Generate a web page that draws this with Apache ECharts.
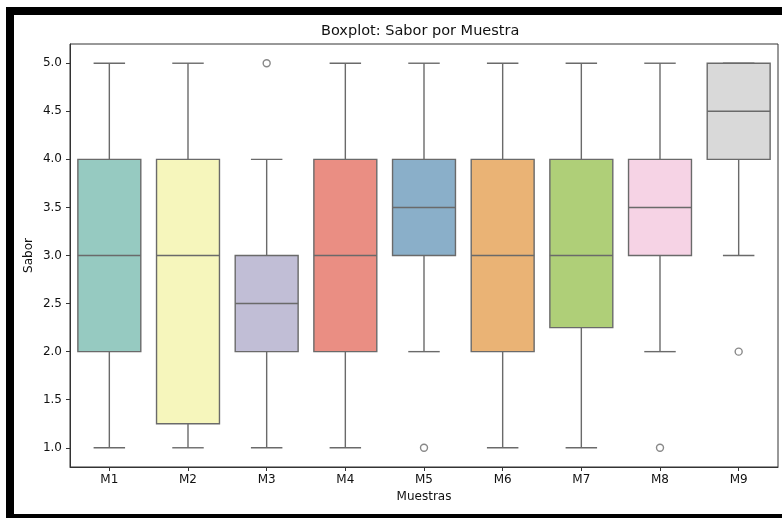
<!DOCTYPE html>
<html>
<head>
<meta charset="utf-8">
<script src="https://cdn.jsdelivr.net/npm/echarts@6/dist/echarts.min.js"></script>
<style>
html,body{margin:0;padding:0;background:#fff;}
#chart{width:782px;height:518px;}
</style>
</head>
<body>
<div id="chart"></div>
<script>
const categories = ['M1','M2','M3','M4','M5','M6','M7','M8','M9'];
const whiskerLow  = [1, 1,    1,   1, 2,   1, 1,    2,   3];
const q1          = [2, 1.25, 2,   2, 3,   2, 2.25, 3,   4];
const median      = [3, 3,    2.5, 3, 3.5, 3, 3,    3.5, 4.5];
const q3          = [4, 4,    3,   4, 4,   4, 4,    4,   5];
const whiskerHigh = [5, 5,    4,   5, 5,   5, 5,    5,   5];
const outliers    = [['M3', 5], ['M5', 1], ['M8', 1], ['M9', 2]];
const yTicks      = [1.0, 1.5, 2.0, 2.5, 3.0, 3.5, 4.0, 4.5, 5.0];
const palette = ['#96cac1','#f6f6bc','#c1bed6','#ea8e83','#8aafc9','#eab375','#afcf78','#f6d3e5','#d9d9d9'];

const lineColor = '#6a6a6a';
const lw = 1.4;
const FONT = 'DejaVu Sans';

const boxData = categories.map((c, i) => [i, whiskerLow[i], q1[i], median[i], q3[i], whiskerHigh[i]]);

const chart = echarts.init(document.getElementById('chart'), null, {renderer: 'canvas'});

chart.setOption({
  animation: false,
  backgroundColor: '#ffffff',
  title: {
    text: 'Boxplot: Sabor por Muestra',
    left: 321, top: 24, padding: 0,
    textStyle: {fontFamily: FONT, fontSize: 14.5, fontWeight: 'normal', color: '#111'}
  },
  grid: {
    left: 70, top: 44, right: 4, bottom: 51,
    show: true, borderColor: '#333', borderWidth: 1, backgroundColor: '#fff'
  },
  graphic: [
    {type: 'rect', shape: {x: 6, y: 7, width: 776, height: 8}, style: {fill: '#000'}, silent: true},
    {type: 'rect', shape: {x: 6, y: 7, width: 8, height: 511}, style: {fill: '#000'}, silent: true},
    {type: 'rect', shape: {x: 6, y: 514, width: 776, height: 4}, style: {fill: '#000'}, silent: true}
  ],
  xAxis: {
    type: 'category',
    data: categories,
    boundaryGap: true,
    name: 'Muestras',
    nameLocation: 'middle',
    nameGap: 24,
    nameTextStyle: {fontFamily: FONT, fontSize: 12, color: '#111'},
    axisLine: {show: true, lineStyle: {color: '#333', width: 1}},
    axisTick: {show: true, alignWithLabel: true, length: 4, lineStyle: {color: '#333'}},
    axisLabel: {fontFamily: FONT, fontSize: 12, color: '#111', margin: 7},
    splitLine: {show: false}
  },
  yAxis: {
    type: 'value',
    min: 0.8, max: 5.2,
    name: 'Sabor',
    nameLocation: 'middle',
    nameGap: 35,
    nameMoveOverlap: false,
    nameRotate: 90,
    nameTextStyle: {fontFamily: FONT, fontSize: 12, color: '#111'},
    axisLine: {show: true, lineStyle: {color: '#333', width: 1}},
    axisTick: {show: true, length: 4, customValues: yTicks, lineStyle: {color: '#333'}},
    axisLabel: {fontFamily: FONT, fontSize: 12, color: '#111', margin: 8, customValues: yTicks,
      formatter: v => Number(v).toFixed(1)},
    splitLine: {show: false}
  },
  series: [
    {
      type: 'custom',
      data: boxData,
      encode: {x: 0, y: [1, 2, 3, 4, 5]},
      renderItem: function (params, api) {
        const idx = api.value(0);
        const pLo = api.coord([idx, api.value(1)]);
        const pQ1 = api.coord([idx, api.value(2)]);
        const pMed = api.coord([idx, api.value(3)]);
        const pQ3 = api.coord([idx, api.value(4)]);
        const pHi = api.coord([idx, api.value(5)]);
        const band = api.size([1, 0])[0];
        const bw = band * 0.8;
        const cw = band * 0.4;
        const cx = pQ1[0];
        const ls = {stroke: lineColor, lineWidth: lw};
        return {
          type: 'group',
          children: [
            {type: 'line', shape: {x1: cx, y1: pLo[1], x2: cx, y2: pQ1[1]}, style: ls},
            {type: 'line', shape: {x1: cx, y1: pQ3[1], x2: cx, y2: pHi[1]}, style: ls},
            {type: 'rect', shape: {x: cx - bw / 2, y: pQ3[1], width: bw, height: pQ1[1] - pQ3[1]},
              style: {fill: palette[idx], stroke: lineColor, lineWidth: lw}},
            {type: 'line', shape: {x1: cx - bw / 2, y1: pMed[1], x2: cx + bw / 2, y2: pMed[1]}, style: ls},
            {type: 'line', shape: {x1: cx - cw / 2, y1: pLo[1], x2: cx + cw / 2, y2: pLo[1]}, style: ls},
            {type: 'line', shape: {x1: cx - cw / 2, y1: pHi[1], x2: cx + cw / 2, y2: pHi[1]}, style: ls}
          ]
        };
      }
    },
    {
      type: 'scatter',
      data: outliers,
      symbol: 'circle',
      symbolSize: 7,
      itemStyle: {color: 'rgba(0,0,0,0)', borderColor: lineColor, borderWidth: lw}
    }
  ]
});
</script>
</body>
</html>
